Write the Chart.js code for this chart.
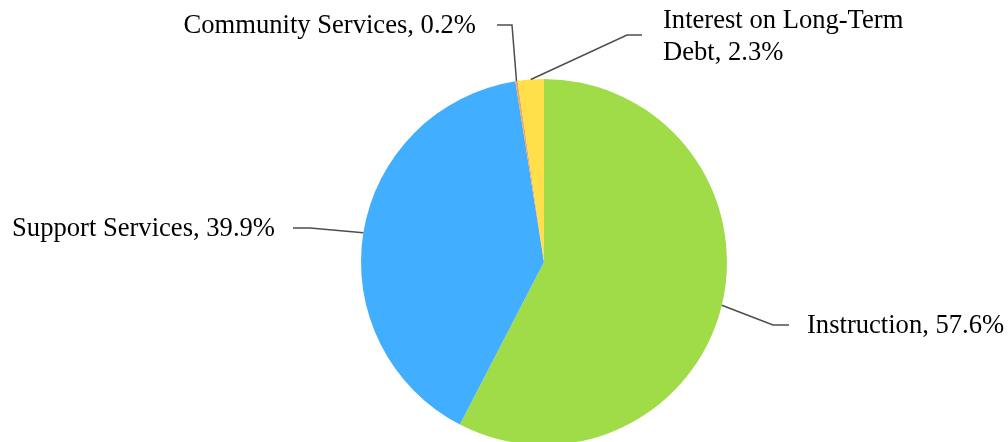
<!DOCTYPE html>
<html>
<head>
<meta charset="utf-8">
<script src="https://cdn.jsdelivr.net/npm/chart.js@4.4.0/dist/chart.umd.min.js"></script>
<style>
  html, body { margin: 0; padding: 0; background: #fff; overflow: hidden; }
  #wrap { position: relative; width: 1008px; height: 460px; }
</style>
</head>
<body>
<div id="wrap"><canvas id="chart"></canvas></div>
<script>
// chart data
const categories = ["Instruction", "Support Services", "Community Services", "Interest on Long-Term Debt"];
const percents = [57.6, 39.9, 0.2, 2.3];
const colors = ["#a0dc48", "#42aeff", "#f7a35c", "#ffe04a"];

// label placement (elbow point, end of leader, text anchor, alignment, text lines)
const labelLayout = [
  { elbow: [773, 325], end: [789, 325], text: [807, 326], align: "left", lines: ["Instruction, 57.6%"] },
  { elbow: [310, 228], end: [293, 228], text: [275, 229], align: "right", lines: ["Support Services, 39.9%"] },
  { elbow: [512, 25], end: [497, 25], text: [476, 26], align: "right", lines: ["Community Services, 0.2%"] },
  { elbow: [627, 35], end: [642, 35], text: [663, 37], align: "left", lines: ["Interest on Long-Term", "Debt, 2.3%"] }
];

const leaderLabels = {
  id: "leaderLabels",
  afterDatasetsDraw(chart) {
    const ctx = chart.ctx;
    const arcs = chart.getDatasetMeta(0).data;
    ctx.save();
    ctx.strokeStyle = "#4d4d4d";
    ctx.lineWidth = 1.5;
    ctx.fillStyle = "#000";
    ctx.font = "26.6px 'Liberation Serif', 'Times New Roman', serif";
    ctx.textBaseline = "middle";
    arcs.forEach((arc, i) => {
      const lay = labelLayout[i];
      const mid = (arc.startAngle + arc.endAngle) / 2;
      const sx = arc.x + Math.cos(mid) * arc.outerRadius;
      const sy = arc.y + Math.sin(mid) * arc.outerRadius;
      ctx.beginPath();
      ctx.moveTo(sx, sy);
      ctx.lineTo(lay.elbow[0], lay.elbow[1]);
      ctx.lineTo(lay.end[0], lay.end[1]);
      ctx.stroke();
      ctx.textAlign = lay.align;
      const lh = 32;
      const y0 = lay.text[1] - (lay.lines.length - 1) * lh / 2;
      lay.lines.forEach((t, k) => ctx.fillText(t, lay.text[0], y0 + k * lh));
    });
    ctx.restore();
  }
};

new Chart(document.getElementById("chart"), {
  type: "pie",
  data: {
    labels: categories,
    datasets: [{
      data: percents,
      backgroundColor: colors,
      borderWidth: 0
    }]
  },
  options: {
    responsive: true,
    maintainAspectRatio: false,
    animation: false,
    layout: { padding: { left: 361, right: 281, top: 79, bottom: 15 } },
    plugins: {
      legend: { display: false },
      tooltip: { enabled: false }
    }
  },
  plugins: [leaderLabels]
});
</script>
</body>
</html>
